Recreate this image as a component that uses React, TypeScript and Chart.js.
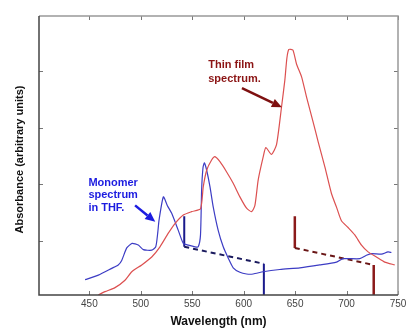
import React, { useEffect, useRef } from "react";
import { Chart, registerables } from "chart.js";

Chart.register(...registerables);

// Monomer spectrum in THF (blue)
const blueWavelength = [
  445.8, 458.7, 471.7, 478.0, 481.4, 486.3, 491.5, 497.5, 502.4, 510.6, 514.5, 516.4, 517.7,
  521.9, 525.7, 530.0, 536.4, 541.3, 546.2, 552.6, 555.8, 558.0, 559.1, 560.4, 561.8, 564.0,
  567.2, 570.4, 575.2, 580.1, 585.0, 589.8, 596.3, 602.8, 609.2, 618.9, 635.1, 654.6, 674.0,
  690.2, 696.6, 712.8, 719.3, 724.2, 733.9, 740.3, 743.6,
];
const blueAbsorbance = [
  0.32, 0.40, 0.52, 0.58, 0.66, 0.88, 0.96, 0.93, 0.85, 0.84, 0.90, 1.14, 1.37,
  1.78, 1.63, 1.49, 1.19, 0.96, 0.93, 0.90, 0.90, 1.11, 1.90, 2.29, 2.38, 2.25,
  1.96, 1.60, 1.19, 0.90, 0.70, 0.53, 0.45, 0.42, 0.42, 0.46, 0.50, 0.53, 0.58,
  0.63, 0.69, 0.69, 0.75, 0.78, 0.77, 0.81, 0.80,
];

// Thin film spectrum (red)
const redWavelength = [
  458.7, 465.2, 474.9, 484.6, 491.2, 500.9, 510.6, 518.6, 526.7, 533.2, 541.3, 549.4, 558.0,
  560.7, 564.0, 568.8, 572.0, 576.9, 583.4, 589.8, 596.3, 602.8, 607.7, 610.9, 614.1, 619.0,
  621.5, 627.0, 631.9, 636.8, 640.0, 642.0, 643.9, 647.8, 651.4, 656.2, 661.1, 667.5, 672.4,
  678.9, 685.3, 690.2, 695.0, 701.5, 708.0, 714.5, 720.9, 729.0, 737.1, 746.8,
];
const redAbsorbance = [
  0.05, 0.11, 0.18, 0.31, 0.46, 0.58, 0.72, 0.90, 1.14, 1.31, 1.46, 1.52, 1.57,
  1.96, 2.25, 2.43, 2.49, 2.40, 2.22, 2.02, 1.78, 1.58, 1.52, 1.63, 2.08, 2.49,
  2.65, 2.53, 2.70, 3.37, 3.84, 4.23, 4.38, 4.37, 4.12, 3.90, 3.54, 3.10, 2.75,
  2.31, 1.84, 1.60, 1.36, 1.24, 1.11, 0.93, 0.81, 0.72, 0.63, 0.58,
];

// Marker lines (vertical + dashed connector)
const blueMarkWavelength = [542.2, 542.2, 619.6, 619.6];
const blueMarkAbsorbance = [1.44, 0.9, 0.6, 0];
const redMarkWavelength = [649.7, 649.7, 726.4, 726.4];
const redMarkAbsorbance = [1.44, 0.88, 0.58, 0];

const xTickValues = [450, 500, 550, 600, 650, 700, 750];
const yTickValues = [1, 2, 3, 4];

const yTitle = "Absorbance (arbitrary units)";
const xTitle = "Wavelength (nm)";
const thinFilmLabel = ["Thin film", "spectrum."];
const thinFilmLabelAt = [565.5, 4.05];
const monomerLabel = ["Monomer", "spectrum", "in THF."];
const monomerLabelAt = [449, 1.975];
const redArrow = [598.3, 3.7, 637.1, 3.36];
const blueArrow = [494.4, 1.63, 514.0, 1.34];

const FONT = "'Liberation Sans', Arial, sans-serif";

function toPoints(xs: number[], ys: number[]) {
  return xs.map((x, i) => ({ x, y: ys[i] }));
}

const decorPlugin = {
  id: "decor",
  afterDatasetsDraw(chart: any) {
    const { ctx, chartArea, scales } = chart;
    const xs = scales.x;
    const ys = scales.y;
    const { left, right, top, bottom } = chartArea;
    ctx.save();
    // inner ticks
    ctx.strokeStyle = "#777";
    ctx.lineWidth = 1;
    ctx.beginPath();
    yTickValues.forEach((v) => {
      const py = Math.round(ys.getPixelForValue(v)) + 0.5;
      ctx.moveTo(left, py);
      ctx.lineTo(left + 4, py);
      ctx.moveTo(right, py);
      ctx.lineTo(right - 4, py);
    });
    xTickValues.forEach((v) => {
      const px = Math.round(xs.getPixelForValue(v)) + 0.5;
      ctx.moveTo(px, bottom);
      ctx.lineTo(px, bottom - 4);
      ctx.moveTo(px, top);
      ctx.lineTo(px, top + 4);
    });
    ctx.stroke();
    // frame
    ctx.lineWidth = 1.5;
    ctx.strokeStyle = "#999";
    ctx.beginPath();
    ctx.moveTo(left, top);
    ctx.lineTo(right, top);
    ctx.lineTo(right, bottom);
    ctx.stroke();
    ctx.strokeStyle = "#444";
    ctx.beginPath();
    ctx.moveTo(left, top);
    ctx.lineTo(left, bottom);
    ctx.lineTo(right, bottom);
    ctx.stroke();

    // y axis title
    ctx.save();
    ctx.translate(20, (top + bottom) / 2 + 4);
    ctx.rotate(-Math.PI / 2);
    ctx.font = `bold 11px ${FONT}`;
    ctx.fillStyle = "#111";
    ctx.textAlign = "center";
    ctx.textBaseline = "middle";
    ctx.fillText(yTitle, 0, 0);
    ctx.restore();

    // labels
    ctx.font = `bold 11px ${FONT}`;
    ctx.textBaseline = "alphabetic";
    ctx.textAlign = "left";
    ctx.fillStyle = "#8b1414";
    const tx = xs.getPixelForValue(thinFilmLabelAt[0]);
    const ty = ys.getPixelForValue(thinFilmLabelAt[1]);
    thinFilmLabel.forEach((t, i) => ctx.fillText(t, tx, ty + i * 13.5));
    ctx.fillStyle = "#1c1ce0";
    const mx = xs.getPixelForValue(monomerLabelAt[0]);
    const my = ys.getPixelForValue(monomerLabelAt[1]);
    monomerLabel.forEach((t, i) => ctx.fillText(t, mx, my + i * 12.5));

    const drawArrow = (a: number[], color: string) => {
      const x0 = xs.getPixelForValue(a[0]);
      const y0 = ys.getPixelForValue(a[1]);
      const x1 = xs.getPixelForValue(a[2]);
      const y1 = ys.getPixelForValue(a[3]);
      const ang = Math.atan2(y1 - y0, x1 - x0);
      const hl = 10;
      const hw = 4.5;
      const bx = x1 - hl * Math.cos(ang);
      const by = y1 - hl * Math.sin(ang);
      ctx.strokeStyle = color;
      ctx.fillStyle = color;
      ctx.lineWidth = 2.5;
      ctx.beginPath();
      ctx.moveTo(x0, y0);
      ctx.lineTo(bx, by);
      ctx.stroke();
      ctx.beginPath();
      ctx.moveTo(x1, y1);
      ctx.lineTo(bx + hw * Math.sin(ang), by - hw * Math.cos(ang));
      ctx.lineTo(bx - hw * Math.sin(ang), by + hw * Math.cos(ang));
      ctx.closePath();
      ctx.fill();
    };
    drawArrow(redArrow, "#7e1010");
    drawArrow(blueArrow, "#1c1ce0");
    ctx.restore();
  },
};

export default function App() {
  const ref = useRef<HTMLCanvasElement | null>(null);
  useEffect(() => {
    document.body.style.margin = "0";
    const canvas = ref.current;
    if (!canvas) return;
    const chart = new Chart(canvas, {
      type: "line",
      data: {
        datasets: [
          {
            label: "Thin film",
            data: toPoints(redWavelength, redAbsorbance),
            borderColor: "#dc5050",
            borderWidth: 1.2,
            pointRadius: 0,
            tension: 0.2,
            fill: false,
          },
          {
            label: "Monomer",
            data: toPoints(blueWavelength, blueAbsorbance),
            borderColor: "#3c3cc4",
            borderWidth: 1.2,
            pointRadius: 0,
            tension: 0.2,
            fill: false,
          },
          {
            label: "Blue marker",
            data: toPoints(blueMarkWavelength, blueMarkAbsorbance),
            borderColor: "#1a1a8c",
            borderWidth: 2,
            pointRadius: 0,
            tension: 0,
            segment: {
              borderDash: (c: any) => (c.p0DataIndex === 1 ? [5, 4] : undefined),
              borderColor: (c: any) => (c.p0DataIndex === 1 ? "#1a1a5e" : undefined),
            },
          },
          {
            label: "Red marker",
            data: toPoints(redMarkWavelength, redMarkAbsorbance),
            borderColor: "#8b1a1a",
            borderWidth: 2.5,
            pointRadius: 0,
            tension: 0,
            segment: {
              borderDash: (c: any) => (c.p0DataIndex === 1 ? [5, 4] : undefined),
              borderColor: (c: any) => (c.p0DataIndex === 1 ? "#6a1616" : undefined),
              borderWidth: (c: any) => (c.p0DataIndex === 1 ? 2 : undefined),
            },
          },
        ],
      },
      options: {
        animation: false,
        responsive: false,
        devicePixelRatio: 1,
        layout: { padding: { left: 0, right: 17, top: 16, bottom: 0 } },
        plugins: { legend: { display: false }, tooltip: { enabled: false } },
        scales: {
          x: {
            type: "linear",
            min: 401,
            max: 750,
            grid: { display: false, drawTicks: false },
            border: { display: false },
            afterBuildTicks: (s: any) => {
              s.ticks = xTickValues.map((v) => ({ value: v }));
            },
            afterFit: (s: any) => {
              s.height = 38;
            },
            ticks: {
              padding: 3,
              color: "#444",
              font: { family: FONT, size: 10 },
              maxRotation: 0,
              autoSkip: false,
              callback: (v: any) => String(v),
            },
            title: {
              display: true,
              text: xTitle,
              color: "#111",
              font: { family: FONT, size: 12, weight: "bold" },
              padding: { top: 0, bottom: 4 },
            },
          },
          y: {
            type: "linear",
            min: 0.05,
            max: 4.97,
            grid: { display: false, drawTicks: false },
            border: { display: false },
            afterBuildTicks: (s: any) => {
              s.ticks = yTickValues.map((v) => ({ value: v }));
            },
            afterFit: (s: any) => {
              s.width = 39;
            },
            ticks: { display: false },
            title: { display: false },
          },
        },
      },
      plugins: [decorPlugin],
    } as any);
    return () => chart.destroy();
  }, []);
  return (
    <div style={{ width: 415, height: 333 }}>
      <canvas ref={ref} width={415} height={333} style={{ display: "block" }} />
    </div>
  );
}
